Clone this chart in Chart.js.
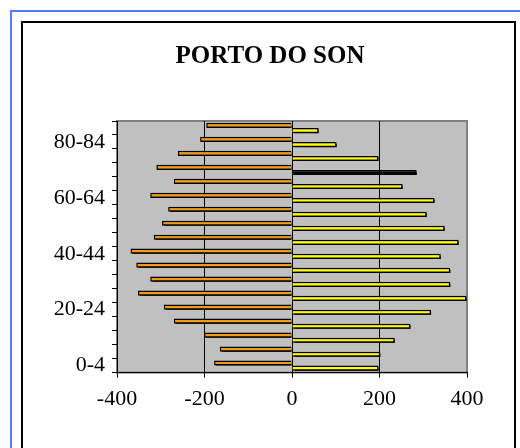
<!DOCTYPE html>
<html>
<head>
<meta charset="utf-8">
<script src="https://cdn.jsdelivr.net/npm/chart.js@4.4.0/dist/chart.umd.min.js"></script>
<style>
  html, body { margin: 0; padding: 0; background: #fff; }
  #wrap { position: relative; width: 520px; height: 448px; }
</style>
</head>
<body>
<div id="wrap"><canvas id="pyramid" width="520" height="448"></canvas></div>
<script>
const ageGroups = ['0-4', '5-9', '10-14', '15-19', '20-24', '25-29', '30-34', '35-39', '40-44',
  '45-49', '50-54', '55-59', '60-64', '65-69', '70-74', '75-79', '80-84', '85+'];
const men = [-178, -165, -201, -270, -293, -352, -324, -356, -369, -316, -297, -283, -324, -270, -310, -261, -210, -196];
const women = [198, 202, 235, 271, 318, 399, 362, 362, 340, 381, 349, 308, 326, 253, 285, 198, 102, 61];
const xTicks = [-400, -200, 0, 200, 400];
const chartTitle = 'PORTO DO SON';

// the 70-74 women bar shows up black in the original
const womenColors = women.map((v, i) => ageGroups[i] === '70-74' ? '#000' : '#ffff00');

const serif = "'Liberation Serif', 'DejaVu Serif', serif";

const frame = {
  id: 'frame',
  beforeDraw(chart) {
    const { ctx, chartArea: a } = chart;
    ctx.save();
    // outer blue line
    ctx.strokeStyle = '#4f7cff';
    ctx.lineWidth = 2;
    ctx.beginPath();
    ctx.moveTo(11, 448);
    ctx.lineTo(11, 11);
    ctx.lineTo(520, 11);
    ctx.stroke();
    // inner black box
    ctx.strokeStyle = '#000';
    ctx.strokeRect(22, 22, 493, 430);
    // title
    ctx.fillStyle = '#000';
    ctx.font = 'bold 25px ' + serif;
    ctx.textAlign = 'center';
    ctx.textBaseline = 'alphabetic';
    ctx.fillText(chartTitle, 270, 63);
    // plot area
    ctx.fillStyle = '#c0c0c0';
    ctx.fillRect(a.left, a.top, a.right - a.left, a.bottom - a.top);
    ctx.strokeStyle = '#808080';
    ctx.lineWidth = 2;
    ctx.strokeRect(a.left, a.top, a.right - a.left, a.bottom - a.top);
    ctx.restore();
  }
};

const shadow = {
  id: 'shadow',
  beforeDatasetsDraw(chart) {
    const ctx = chart.ctx;
    ctx.save();
    ctx.shadowColor = '#000';
    ctx.shadowOffsetX = 2;
    ctx.shadowOffsetY = 2;
    ctx.shadowBlur = 0;
  },
  afterDatasetsDraw(chart) {
    chart.ctx.restore();
  }
};

new Chart(document.getElementById('pyramid'), {
  type: 'bar',
  data: {
    labels: ageGroups,
    datasets: [
      { label: 'Homes', data: men, backgroundColor: '#f39a14', borderColor: '#000', borderWidth: 1.5 },
      { label: 'Mulleres', data: women, backgroundColor: womenColors, borderColor: '#000', borderWidth: 1.5 }
    ]
  },
  options: {
    indexAxis: 'y',
    responsive: false,
    animation: false,
    categoryPercentage: 0.74,
    barPercentage: 1.0,
    layout: { padding: { top: 121, left: 30, right: 53, bottom: 28 } },
    plugins: {
      legend: { display: false },
      tooltip: { enabled: false },
      title: { display: false }
    },
    scales: {
      x: {
        min: -400,
        max: 400,
        afterBuildTicks: s => { s.ticks = xTicks.map(v => ({ value: v })); },
        ticks: { color: '#000', padding: 8, maxRotation: 0, font: { family: serif, size: 22 } },
        grid: {
          color: c => (c.tick && [-200, 0, 200].includes(c.tick.value)) ? '#000' : 'rgba(0,0,0,0)',
          tickColor: '#000',
          tickLength: 5,
          lineWidth: 1
        },
        border: { display: true, color: '#000', width: 1 }
      },
      y: {
        reverse: true,
        afterFit: s => { s.width = 87; },
        ticks: {
          autoSkip: false,
          color: '#000',
          padding: 7,
          font: { family: serif, size: 22 },
          callback: (v, i) => i % 4 === 0 ? ageGroups[i] : ''
        },
        grid: { drawOnChartArea: false, tickColor: '#000', tickLength: 5 },
        border: { display: true, color: '#000', width: 1 }
      }
    }
  },
  plugins: [frame, shadow]
});
</script>
</body>
</html>
